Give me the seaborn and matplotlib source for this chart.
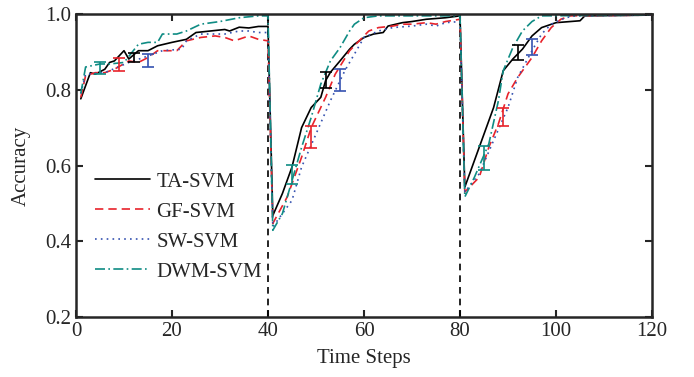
import numpy as np
import pandas as pd
import matplotlib
matplotlib.use("Agg")
import matplotlib.pyplot as plt
import seaborn as sns

# accuracy curves (time step, accuracy)
ta_t = [1, 3, 4, 6, 7, 8, 10, 11, 13, 15, 17, 20, 23, 25, 28, 31, 32, 34, 36, 38, 40,
        41, 43, 45, 47, 49, 51, 52, 53, 55, 57, 58, 60, 62, 64, 65, 68, 70, 73, 77, 80,
        81, 84, 87, 89, 91, 93, 95, 97, 100, 103, 105, 106, 120]
ta_v = [0.776, 0.845, 0.841, 0.854, 0.872, 0.876, 0.903, 0.881, 0.903, 0.903, 0.916, 0.925, 0.933, 0.951, 0.955, 0.959, 0.955, 0.965, 0.963, 0.967, 0.967,
        0.468, 0.526, 0.596, 0.700, 0.753, 0.780, 0.824, 0.846, 0.876, 0.907, 0.920, 0.938, 0.947, 0.951, 0.968, 0.977, 0.980, 0.986, 0.990, 0.995,
        0.543, 0.648, 0.753, 0.850, 0.881, 0.907, 0.942, 0.964, 0.977, 0.980, 0.982, 0.995, 0.997]

gf_t = [1, 2, 4, 6, 8, 11, 13, 15, 17, 21, 23, 26, 29, 31, 33, 36, 38, 40,
        41, 44, 47, 49, 52, 54, 57, 59, 61, 63, 66, 68, 70, 73, 75, 77, 80,
        81, 84, 86, 88, 90, 92, 95, 97, 99, 101, 103, 120]
gf_v = [0.780, 0.837, 0.845, 0.845, 0.854, 0.876, 0.872, 0.885, 0.903, 0.903, 0.929, 0.938, 0.942, 0.938, 0.929, 0.942, 0.933, 0.929,
        0.447, 0.517, 0.622, 0.700, 0.780, 0.841, 0.903, 0.929, 0.955, 0.964, 0.968, 0.973, 0.973, 0.977, 0.973, 0.980, 0.986,
        0.530, 0.569, 0.648, 0.710, 0.789, 0.832, 0.885, 0.929, 0.964, 0.986, 0.995, 0.997]

sw_t = [1, 2, 6, 11, 15, 18, 22, 23, 26, 31, 34, 36, 38, 40,
        41, 45, 47, 50, 53, 56, 58, 60, 63, 66, 70, 73, 75, 77, 80,
        81, 84, 87, 90, 92, 95, 97, 99, 102, 104, 120]
sw_v = [0.790, 0.841, 0.845, 0.872, 0.889, 0.903, 0.907, 0.929, 0.947, 0.947, 0.955, 0.955, 0.951, 0.951,
        0.438, 0.508, 0.596, 0.683, 0.771, 0.850, 0.894, 0.938, 0.955, 0.964, 0.968, 0.973, 0.968, 0.977, 0.980,
        0.530, 0.578, 0.666, 0.753, 0.832, 0.903, 0.947, 0.973, 0.990, 0.995, 0.997]

dwm_t = [1, 2, 5, 7, 10, 13, 15, 17, 18, 21, 23, 26, 30, 34, 38, 40,
         41, 43, 45, 47, 49, 51, 53, 55, 57, 58, 60, 63, 80,
         81, 83, 86, 88, 89, 91, 93, 95, 97, 120]
dwm_v = [0.790, 0.860, 0.868, 0.868, 0.872, 0.920, 0.925, 0.925, 0.947, 0.947, 0.955, 0.973, 0.980, 0.990, 0.995, 0.995,
         0.429, 0.473, 0.560, 0.648, 0.727, 0.815, 0.876, 0.911, 0.955, 0.973, 0.990, 0.995, 0.995,
         0.517, 0.569, 0.657, 0.771, 0.850, 0.911, 0.955, 0.980, 0.995, 0.997]

# error bars: position, lower, upper
ta_err = ([12, 52, 92], [0.872, 0.804, 0.878], [0.898, 0.848, 0.918])
gf_err = ([9, 49, 89], [0.850, 0.645, 0.703], [0.885, 0.703, 0.751])
sw_err = ([15, 55, 95], [0.859, 0.796, 0.892], [0.894, 0.854, 0.933])
dwm_err = ([5, 45, 85], [0.841, 0.552, 0.587], [0.872, 0.602, 0.651])

names = ["TA-SVM", "GF-SVM", "SW-SVM", "DWM-SVM"]
colors = ["black", "#e8232b", "#3552b0", "#0f8c84"]
dashes = [(None, None), (5, 3), (1, 2.5), (6, 2, 1, 2)]

df = pd.concat([
    pd.DataFrame({"t": ta_t, "acc": ta_v, "method": "TA-SVM"}),
    pd.DataFrame({"t": gf_t, "acc": gf_v, "method": "GF-SVM"}),
    pd.DataFrame({"t": sw_t, "acc": sw_v, "method": "SW-SVM"}),
    pd.DataFrame({"t": dwm_t, "acc": dwm_v, "method": "DWM-SVM"}),
])
errs = [ta_err, gf_err, sw_err, dwm_err]

sns.set_style("ticks")
plt.rcParams["font.family"] = ["Liberation Serif", "DejaVu Serif"]
plt.rcParams["xtick.direction"] = "in"
plt.rcParams["ytick.direction"] = "in"

fig = plt.figure(figsize=(6.94, 3.77), dpi=100)
ax = fig.add_axes([0.1095, 0.159, 0.83, 0.804])

for x in [40, 80]:
    ax.axvline(x, color="black", ls=(0, (4, 3)), lw=1.2, zorder=1)

for name, c, d in zip(names, colors, dashes):
    sub = df[df["method"] == name]
    sns.lineplot(data=sub, x="t", y="acc", ax=ax, color=c, lw=1.2, label=name)
    l = ax.get_lines()[-1]
    if d[0] is not None:
        l.set_dashes(d)

for (et, lo, hi), c in zip(errs, colors):
    lo = np.array(lo)
    hi = np.array(hi)
    ax.errorbar(et, (lo + hi) / 2, yerr=(hi - lo) / 2, fmt="none", ecolor=c,
                elinewidth=1.2, capsize=4, capthick=1.2)

ax.set_xlim(0, 120)
ax.set_ylim(0.2, 1.0)
ax.set_xticks(range(0, 121, 20))
ax.set_yticks([0.2, 0.4, 0.6, 0.8, 1.0])
ax.set_yticklabels(["0.2", "0.4", "0.6", "0.8", "1.0"])
ax.tick_params(axis="both", labelsize=15, top=True, right=True, width=1.5, length=5)
for s in ax.spines.values():
    s.set_linewidth(1.8)
ax.set_xlabel("Time Steps", fontsize=15, labelpad=6)
ax.set_ylabel("Accuracy", fontsize=15, labelpad=10)

leg = ax.legend(loc="lower left", bbox_to_anchor=(0.0, 0.055), frameon=False, fontsize=15,
                handlelength=2.65, labelspacing=0.5, handletextpad=0.3)

fig.savefig("out.png", dpi=100)
